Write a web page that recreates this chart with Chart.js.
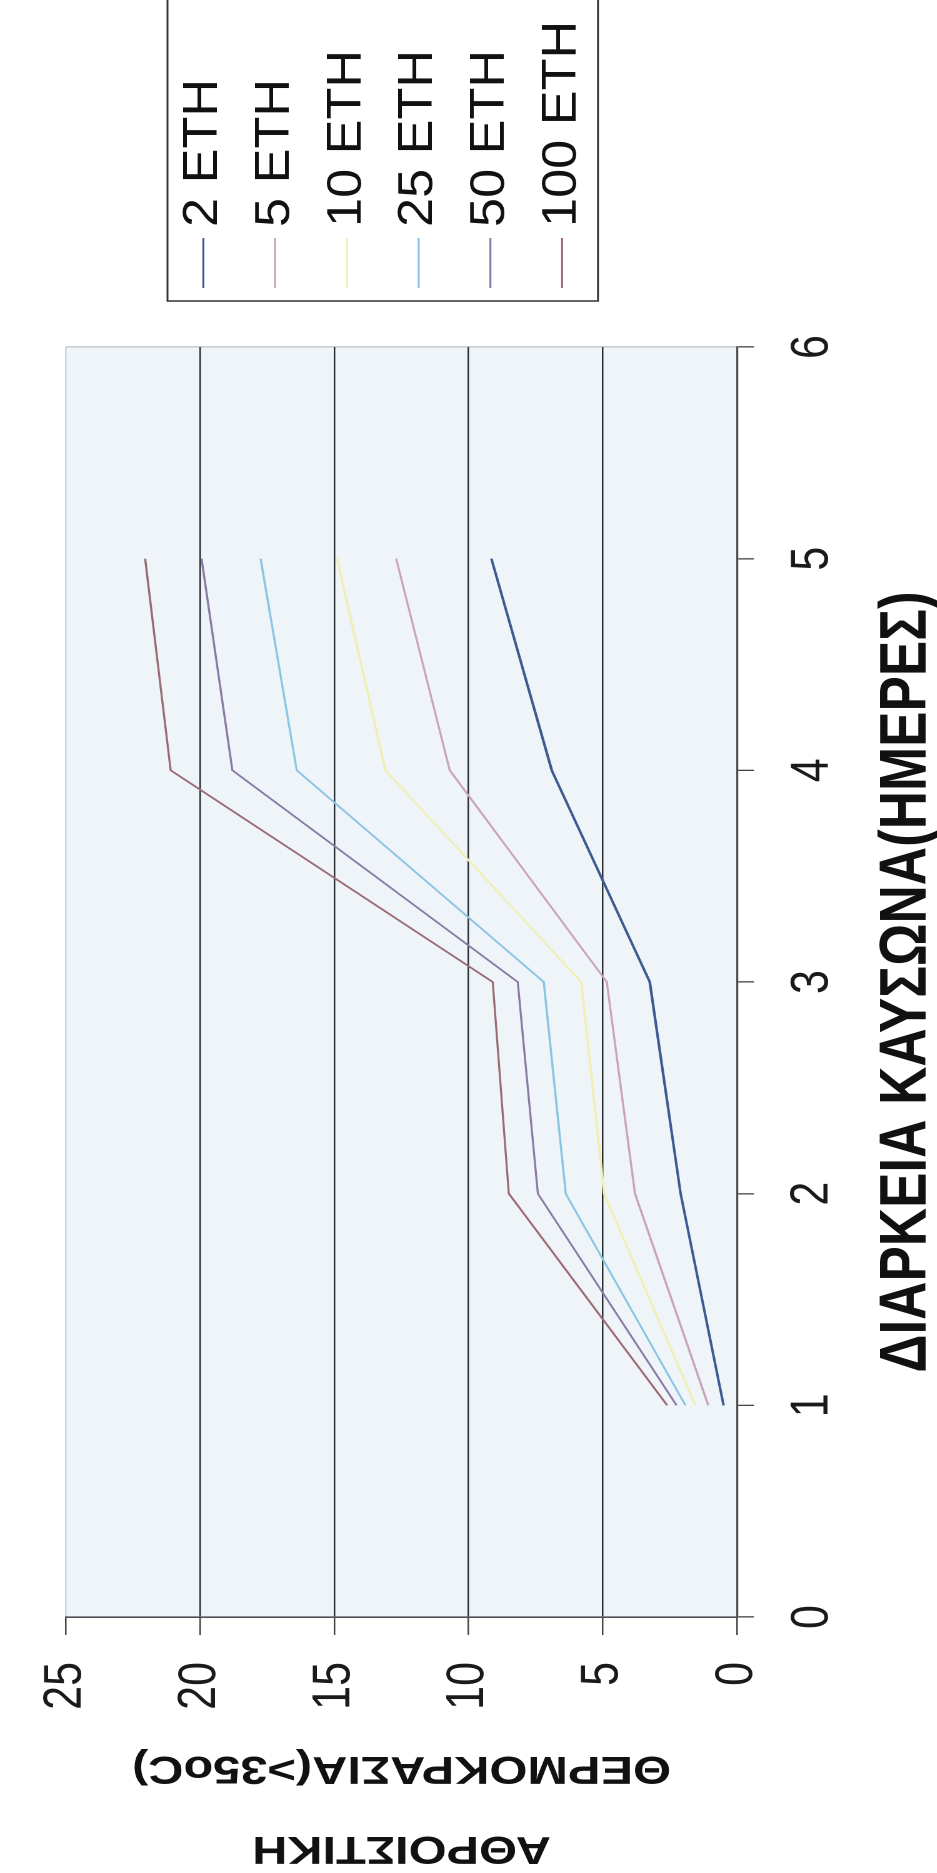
<!DOCTYPE html>
<html>
<head>
<meta charset="utf-8">
<script src="https://cdn.jsdelivr.net/npm/chart.js@4.4.1/dist/chart.umd.min.js"></script>
<style>
  html, body { margin: 0; padding: 0; background: #ffffff; overflow: hidden; }
  body { width: 937px; height: 1873px; position: relative; }
  #wrap {
    position: absolute; left: 0; top: 0;
    width: 1873px; height: 750px;
    transform-origin: 0 0;
    transform: translate(0px, 1873px) rotate(-90deg) scaleY(1.25);
  }
  canvas { display: block; }
</style>
</head>
<body>
<div id="wrap"><canvas id="c" width="1873" height="750"></canvas></div>
<script>
// ---- data ----
const days = [1, 2, 3, 4, 5];
const seriesLabels = ['2 ETH', '5 ETH', '10 ETH', '25 ETH', '50 ETH', '100 ETH'];
const eth2   = [0.5, 2.1, 3.25, 6.9, 9.15];
const eth5   = [1.07, 3.8, 4.85, 10.7, 12.7];
const eth10  = [1.55, 4.95, 5.8, 13.1, 14.9];
const eth25  = [1.92, 6.38, 7.2, 16.4, 17.75];
const eth50  = [2.25, 7.42, 8.17, 18.8, 19.95];
const eth100 = [2.6, 8.5, 9.1, 21.1, 22.05];
const xMin = 0, xMax = 6, xStep = 1;
const yMin = 0, yMax = 25, yStep = 5;
const xTitle = 'ΔΙΑΡΚΕΙΑ ΚΑΥΣΩΝΑ(ΗΜΕΡΕΣ)';
const yTitle = ['ΑΘΡΟΙΣΤΙΚΗ', 'ΘΕΡΜΟΚΡΑΣΙΑ(>35oC)'];

// ---- styles ----
const seriesValues = [eth2, eth5, eth10, eth25, eth50, eth100];
const seriesColors = ['#3d5a92', '#c9a3bd', '#f1eeb2', '#8cc4e4', '#8a7aa4', '#9b6b74'];
const seriesWidths = [2.1, 1.7, 1.8, 1.7, 1.7, 1.7];

const datasets = seriesLabels.map((lab, i) => ({
  label: lab,
  data: days.map((d, j) => ({ x: d, y: seriesValues[i][j] })),
  borderColor: seriesColors[i],
  backgroundColor: seriesColors[i],
  borderWidth: seriesWidths[i],
  pointRadius: 0,
  tension: 0,
  fill: false
}));

const plotBg = {
  id: 'plotBg',
  beforeDraw(chart) {
    const { ctx, chartArea: a } = chart;
    ctx.save();
    ctx.fillStyle = '#eef4f8';
    ctx.fillRect(a.left, a.top, a.right - a.left, a.bottom - a.top);
    ctx.restore();
  }
};

const boxLegend = {
  id: 'boxLegend',
  afterDraw(chart) {
    const { ctx, chartArea: a } = chart;
    const ds = chart.data.datasets;
    const left = a.right + 46, top = 134, step = 57.4;
    const h = step * ds.length;
    ctx.save();
    ctx.fillStyle = '#ffffff';
    ctx.fillRect(left, top, 400, h);
    ctx.strokeStyle = '#333333';
    ctx.lineWidth = 1.5;
    ctx.strokeRect(left, top, 400, h);
    ds.forEach((d, i) => {
      const cy = top + step * (i + 0.5);
      ctx.beginPath();
      ctx.strokeStyle = d.borderColor;
      ctx.lineWidth = 1.6;
      ctx.moveTo(left + 13, cy);
      ctx.lineTo(left + 63, cy);
      ctx.stroke();
      ctx.save();
      ctx.translate(left + 74, cy);
      ctx.scale(1.34, 1);
      ctx.fillStyle = '#111111';
      ctx.font = '39px "Liberation Sans", Arial, sans-serif';
      ctx.textAlign = 'left';
      ctx.textBaseline = 'middle';
      ctx.fillText(d.label, 0, 0);
      ctx.restore();
    });
    ctx.restore();
  }
};

new Chart(document.getElementById('c'), {
  type: 'line',
  data: { datasets },
  options: {
    responsive: false,
    animation: false,
    devicePixelRatio: 2,
    layout: { padding: { top: 25.6, right: 347, left: 0, bottom: 0 } },
    plugins: { legend: { display: false }, tooltip: { enabled: false } },
    scales: {
      x: {
        type: 'linear', min: xMin, max: xMax,
        afterFit(s) { s.height = 160.4; },
        ticks: { stepSize: xStep, padding: 21, color: '#1a1a1a',
                 font: { family: '"Liberation Sans", Arial, sans-serif', size: 43 } },
        grid: {
          drawOnChartArea: true, drawTicks: true, tickLength: 13.6,
          color: c => (c.tick && c.tick.value === xMax) ? '#b9c3cc' : 'rgba(0,0,0,0)',
          tickColor: '#444444', lineWidth: 1.3
        },
        border: { display: true, color: '#4a4f55', width: 1.6 },
        title: { display: true, text: xTitle, color: '#111111',
                 font: { family: '"Liberation Sans", Arial, sans-serif', size: 53, weight: 'bold', lineHeight: 1 },
                 padding: { top: 0, bottom: -2.5 } }
      },
      y: {
        min: yMin, max: yMax,
        afterFit(s) { s.width = 256; },
        ticks: { stepSize: yStep, padding: 27, color: '#1a1a1a',
                 font: { family: '"Liberation Sans", Arial, sans-serif', size: 43 } },
        grid: {
          drawTicks: true, tickLength: 18,
          color: c => (c.tick && c.tick.value === yMax) ? '#c3d6e8' : '#2a2f33',
          tickColor: '#444444', lineWidth: 1.3
        },
        border: { display: true, color: '#4a4f55', width: 1.6 },
        title: { display: true, text: yTitle, color: '#111111',
                 font: { family: '"Liberation Sans", Arial, sans-serif', size: 39, weight: 'bold', lineHeight: 80 / 39 },
                 padding: { top: -15, bottom: 0 } }
      }
    }
  },
  plugins: [plotBg, boxLegend]
});
</script>
</body>
</html>
